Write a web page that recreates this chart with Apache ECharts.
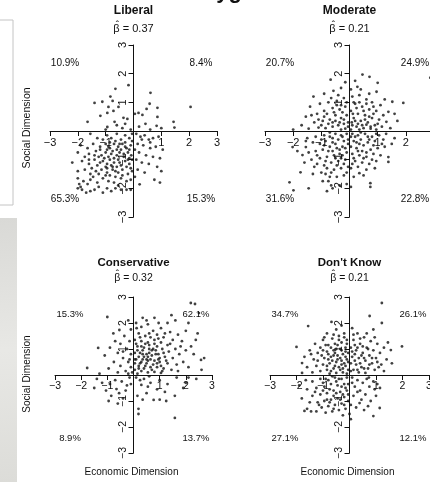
<!DOCTYPE html>
<html><head><meta charset="utf-8">
<script src="https://cdn.jsdelivr.net/npm/echarts@6/dist/echarts.min.js"></script>
<style>html,body{margin:0;padding:0;background:#fff}#c{width:430px;height:482px}</style>
</head><body><div id="c"></div>
<script>
// ---------- data ----------
const panelTitles = ['Liberal', 'Moderate', 'Conservative', "Don't Know"];
const betaValues = ['0.37', '0.21', '0.32', '0.21'];
// quadrant shares: upper-left, upper-right, lower-left, lower-right
const quadrantPct = [
  ['10.9%', '8.4%', '65.3%', '15.3%'],
  ['20.7%', '24.9%', '31.6%', '22.8%'],
  ['15.3%', '62.1%', '8.9%', '13.7%'],
  ['34.7%', '26.1%', '27.1%', '12.1%']
];
const axisMin = -3, axisMax = 3, axisStep = 1;
const xAxisName = 'Economic Dimension';
const yAxisName = 'Social Dimension';

// [economic, social]
const liberalPoints = [
 [2.05,0.84],[0.61,1.33],[0.58,0.95],[0.86,0.81],[0.47,0.77],[0.18,0.63],[0.32,0.56],[0.86,0.49],[0.43,0.25],[0.83,0.18],[1.0,0.1],[1.44,0.32],[1.47,0.12],[0.05,0.6],[0.2,0.15],[0.6,0.05],
 [-0.18,1.6],[-0.65,1.47],[-0.83,1.2],[-1.4,0.98],[-1.12,1.02],[-0.9,0.84],[-0.54,0.84],[-0.72,0.7],[-1.19,0.53],[-0.94,0.63],[-1.65,0.32],[-0.68,0.32],[-0.36,0.46],[-0.22,0.42],[-0.94,0.14],[-1.0,0.05],[-0.4,0.1],[-0.1,0.05],[-0.6,0.2],[-0.3,0.25],[-0.75,1.05],
 [0.1,-0.1],[0.25,-0.2],[0.4,-0.15],[0.55,-0.3],[0.7,-0.25],[0.9,-0.2],[0.15,-0.45],[0.35,-0.5],[0.6,-0.6],[0.8,-0.55],[1.05,-0.65],[0.2,-0.75],[0.45,-0.85],[0.7,-0.9],[0.95,-0.95],[0.1,-1.0],[0.3,-1.1],[0.55,-1.15],[0.85,-1.25],[0.15,-1.35],[0.4,-1.45],[1.0,-1.4],[0.22,-1.86],[0.75,-1.7],[0.95,-1.8],[0.05,-1.6],[0.6,-0.4],[0.3,-0.3],[0.05,-0.65],
 [-1.55,-0.1],[-0.95,-0.15],[-0.6,-0.1],[-0.3,-0.15],[-0.15,-0.25],[-0.45,-0.3],[-1.1,-0.3],[-0.05,-0.1],[-0.8,-0.25],[-1.3,-0.25],
 [-1.9,-0.5],[-1.45,-0.45],[-1.2,-0.55],[-1.0,-0.45],[-0.85,-0.6],[-0.7,-0.45],[-0.55,-0.55],[-0.4,-0.45],[-0.25,-0.6],[-0.1,-0.5],[-0.65,-0.35],[-0.3,-0.4],[-1.65,-0.6],[-0.05,-0.35],
 [-2.0,-0.75],[-1.6,-0.8],[-1.35,-0.7],[-1.15,-0.85],[-1.0,-0.75],[-0.9,-0.9],[-0.75,-0.7],[-0.6,-0.85],[-0.5,-0.75],[-0.35,-0.9],[-0.2,-0.75],[-0.08,-0.85],[-1.25,-0.9],[-0.8,-0.8],[-0.45,-0.65],[-0.15,-0.95],[-1.75,-0.9],[-0.95,-0.65],
 [-2.2,-1.1],[-1.85,-1.05],[-1.6,-1.15],[-1.4,-1.0],[-1.3,-1.2],[-1.1,-1.05],[-0.95,-1.15],[-0.85,-1.0],[-0.7,-1.1],[-0.55,-1.0],[-0.45,-1.2],[-0.3,-1.05],[-0.15,-1.15],[-0.05,-1.0],[-1.5,-1.3],[-1.2,-1.1],[-0.6,-1.25],[-0.25,-1.25],[-1.0,-1.25],[-0.8,-1.2],
 [-2.0,-1.4],[-1.75,-1.35],[-1.55,-1.5],[-1.35,-1.4],[-1.15,-1.35],[-0.95,-1.45],[-0.75,-1.35],[-0.55,-1.45],[-0.4,-1.35],[-0.2,-1.5],[-0.05,-1.4],[-1.25,-1.5],[-0.85,-1.55],[-0.65,-1.6],[-1.45,-1.6],
 [-2.0,-1.65],[-1.8,-1.75],[-1.55,-1.7],[-1.3,-1.8],[-1.1,-1.65],[-0.9,-1.75],[-0.7,-1.8],[-0.45,-1.65],[-0.25,-1.75],[-0.1,-1.7],[-1.95,-1.85],[-1.65,-1.85],[-0.55,-1.9],
 [-2.0,-2.0],[-1.85,-2.05],[-1.7,-2.15],[-1.55,-2.1],[-1.4,-2.05],[-1.25,-1.95],[-0.95,-2.0],[-0.8,-2.1],[-0.65,-2.0],[-0.45,-2.05],[-0.25,-2.05],[-0.1,-2.05],[-1.1,-2.15],[-1.9,-1.95],
 [-0.9,-0.55],[-0.7,-0.95],[-0.5,-1.1],[-1.05,-0.95],[-0.35,-0.8],[-0.6,-0.65],[-0.2,-1.0],[-1.2,-0.65],[-0.75,-1.25],[-0.4,-1.55],[-1.0,-1.55],[-0.3,-0.55],[-0.65,-1.4],[-0.85,-0.4],[-1.4,-0.85],[-0.1,-1.3],[-0.5,-0.45],[-1.6,-1.0],[-0.15,-0.65],[-0.95,-1.3]
];
const moderatePoints = [
 [0.46,1.97],[0.71,1.89],[1.0,1.68],[0.28,1.54],[0.96,1.37],[1.91,0.98],[1.52,1.02],[1.7,0.35],[1.38,0.67],[1.31,0.32],[2.87,1.86],
 [0.1,1.2],[0.35,1.25],[0.6,1.1],[0.8,1.0],[1.1,0.9],[0.2,0.95],[0.45,0.85],[0.7,0.75],[0.95,0.7],[1.2,0.55],[0.05,0.7],[0.3,0.6],[0.55,0.55],[0.8,0.45],[1.05,0.4],[0.15,0.45],[0.4,0.35],[0.65,0.3],[0.9,0.2],[1.15,0.15],[0.1,0.2],[0.25,0.15],[0.5,0.1],[0.75,0.08],[1.45,0.1],[0.05,0.05],[0.2,0.35],[0.35,0.05],[0.6,0.22],[0.85,0.6],[0.5,0.7],[0.15,1.0],[0.4,1.45],[0.7,1.3],[1.25,1.1],[0.25,0.8],[0.6,0.95],[1.0,0.25],[0.3,0.25],[0.12,0.6],[0.45,0.2],[0.7,0.5],[0.95,0.05],[0.05,1.45],[0.55,0.4],[0.85,0.85],[1.6,0.6],[0.2,1.75],[0.35,1.0],[0.08,0.3],[0.75,0.15],
 [-0.67,1.79],[-0.57,1.4],[-1.28,1.2],[-0.3,1.5],[-0.9,1.3],[-0.2,1.15],[-0.45,1.05],[-0.75,1.0],[-1.05,0.95],[-1.4,0.85],[-0.15,0.85],[-0.35,0.75],[-0.6,0.8],[-0.9,0.7],[-1.15,0.6],[-1.55,0.5],[-0.1,0.55],[-0.3,0.45],[-0.5,0.55],[-0.7,0.4],[-0.95,0.35],[-1.25,0.3],[-1.7,0.2],[-0.05,0.3],[-0.2,0.25],[-0.4,0.2],[-0.6,0.15],[-0.85,0.1],[-1.1,0.12],[-1.45,0.08],[-2.0,0.05],[-0.15,0.08],[-0.3,0.05],[-0.5,0.35],[-0.8,0.6],[-0.25,0.65],[-0.45,0.9],[-0.1,1.0],[-0.65,1.15],[-1.1,0.4],[-0.35,0.3],[-0.75,0.25],[-0.05,0.15],[-1.35,0.55],[-0.55,0.65],[-0.2,0.4],[-0.9,0.5],[-0.4,1.25],[-0.15,1.7],[-1.0,0.2],[-0.6,0.3],[-0.3,0.9],
 [-2.13,-1.79],[-1.99,-2.07],[-1.74,-1.44],[-1.45,-2.0],[-1.67,-0.84],[-1.55,-0.56],[-2.02,-0.56],[-0.85,-1.5],[-0.75,-1.75],[-0.6,-2.0],[-0.7,-1.6],[-0.8,-2.1],
 [-0.1,-0.1],[-0.3,-0.15],[-0.5,-0.1],[-0.7,-0.2],[-0.9,-0.15],[-1.2,-0.2],[-1.5,-0.25],[-0.2,-0.35],[-0.4,-0.3],[-0.6,-0.4],[-0.85,-0.35],[-1.05,-0.45],[-1.3,-0.4],[-0.05,-0.45],[-0.25,-0.55],[-0.45,-0.6],[-0.7,-0.55],[-0.95,-0.65],[-1.2,-0.7],[-1.45,-0.75],[-1.85,-0.7],[-0.1,-0.75],[-0.35,-0.8],[-0.55,-0.85],[-0.8,-0.9],[-1.05,-0.95],[-1.35,-1.0],[-0.15,-1.0],[-0.4,-1.05],[-0.65,-1.1],[-0.9,-1.2],[-1.15,-1.15],[-1.6,-1.1],[-0.05,-1.25],[-0.3,-1.3],[-0.55,-1.35],[-1.0,-1.45],[-1.3,-1.5],[-0.2,-1.55],[-0.45,-1.6],[-0.95,-1.75],[-0.1,-1.85],[-0.35,-1.9],[-0.65,-1.9],[-0.25,-0.2],[-0.6,-0.25],[-1.0,-0.3],[-0.15,-0.6],[-0.5,-0.45],[-0.75,-0.7],[-0.3,-0.95],[-0.6,-0.7],[-0.9,-0.5],[-1.15,-0.85],[-0.45,-1.2],[-0.8,-1.3],[-0.2,-1.15],[-0.7,-0.05],[-0.35,-0.65],[-1.25,-1.25],[-0.05,-0.3],[-0.5,-0.95],[-0.85,-1.05],[-1.55,-0.35],[-0.25,-0.85],[-0.65,-1.45],[-0.1,-1.45],
 [0.74,-1.82],[0.74,-1.95],[1.38,-0.91],[1.38,-1.08],[0.35,-1.47],[0.5,-1.55],[0.1,-0.1],[0.3,-0.15],[0.55,-0.1],[0.8,-0.2],[1.05,-0.15],[1.3,-0.1],[1.6,-0.25],[0.15,-0.35],[0.4,-0.3],[0.65,-0.4],[0.9,-0.35],[1.15,-0.45],[0.05,-0.55],[0.25,-0.6],[0.5,-0.5],[0.75,-0.65],[1.0,-0.6],[1.25,-0.55],[0.1,-0.8],[0.35,-0.85],[0.6,-0.9],[0.85,-0.8],[1.1,-0.85],[0.2,-1.05],[0.45,-1.1],[0.7,-1.15],[0.95,-1.05],[0.05,-1.3],[0.3,-1.25],[0.6,-1.35],[0.9,-1.3],[0.15,-1.6],[0.05,-1.95],[0.2,-0.2],[0.45,-0.7],[0.7,-0.3],[0.35,-0.45],[0.6,-0.75],[0.15,-0.95],[0.85,-0.5],[1.5,-0.45],[0.25,-0.4],[0.5,-0.95],[0.05,-0.2],[0.4,-0.05],[0.95,-0.1],[0.65,-0.2],[0.1,-1.15],[0.8,-1.0],[1.2,-0.3],[0.3,-0.7]
];
const conservativePoints = [
 [2.19,2.77],[2.35,2.73],[2.5,2.38],[2.1,2.0],[1.6,2.1],[1.3,2.0],[0.96,2.0],[2.58,0.58],[2.7,0.65],[2.38,1.35],[2.2,1.1],[2.45,1.6],[2.0,1.7],[1.85,1.3],[2.3,0.8],[1.9,0.5],[2.1,0.3],[2.6,0.2],
 [0.1,2.0],[0.3,1.85],[0.55,1.95],[0.75,1.7],[1.05,1.8],[1.4,1.65],[1.7,1.55],[0.2,1.6],[0.45,1.5],[0.65,1.45],[0.9,1.55],[1.15,1.45],[1.5,1.35],[0.05,1.35],[0.3,1.3],[0.55,1.25],[0.8,1.2],[1.05,1.25],[1.3,1.15],[1.6,1.0],[0.15,1.1],[0.4,1.05],[0.6,1.0],[0.85,0.95],[1.1,1.0],[1.35,0.9],[1.75,0.8],[0.05,0.85],[0.25,0.85],[0.5,0.8],[0.7,0.75],[0.95,0.8],[1.2,0.7],[1.5,0.65],[0.1,0.6],[0.35,0.6],[0.55,0.55],[0.8,0.55],[1.0,0.5],[1.3,0.45],[1.65,0.4],[0.2,0.35],[0.45,0.35],[0.65,0.3],[0.9,0.3],[1.15,0.25],[1.45,0.2],[0.05,0.2],[0.3,0.15],[0.55,0.1],[0.8,0.12],[1.05,0.08],[0.15,0.05],[0.4,0.7],[0.7,0.95],[0.6,1.15],[0.35,0.95],[0.9,1.1],[0.25,0.45],[0.5,0.45],[0.75,0.4],[1.0,0.65],[0.45,1.2],[0.8,1.35],[0.2,0.7],[0.65,0.6],[1.25,0.55],[0.55,0.7],[0.85,0.8],[0.1,1.2],[0.3,0.5],[1.05,0.35],[0.7,0.2],[0.4,0.25],[1.4,1.2],[1.8,1.1],[0.95,1.4],[0.25,1.45],[0.6,1.6],[1.2,1.6],[0.12,1.8],[0.5,2.1],[0.8,2.2],[1.45,2.3],[0.35,2.2],[1.1,0.15],[1.7,0.15],[2.0,0.95],[0.05,0.45],[0.15,0.95],[0.95,0.6],[0.6,0.85],[0.35,0.8],[0.75,1.0],[0.5,0.6],[0.3,1.1],[0.9,0.45],[1.15,0.85],[0.2,0.25],[0.05,0.6],
 [-1.0,2.23],[-0.54,1.73],[-0.77,1.6],[-1.35,1.04],[-1.77,0.27],[-0.2,2.1],[-0.1,1.75],[-0.35,1.5],[-0.15,1.3],[-0.5,1.2],[-0.9,1.05],[-0.25,1.0],[-0.6,0.85],[-1.1,0.75],[-0.1,0.8],[-0.4,0.65],[-0.75,0.5],[-0.2,0.5],[-0.5,0.35],[-0.95,0.25],[-0.1,0.3],[-0.3,0.15],[-0.6,0.1],[-1.3,0.05],[-0.05,0.1],[-0.2,0.05],[-0.4,0.9],[-0.15,0.6],[-0.7,1.3],
 [-0.65,-0.54],[-0.85,-0.8],[-1.2,-0.3],[-0.6,-1.1],[-0.3,-0.6],[-1.4,-0.15],[-0.9,-0.35],[-0.45,-0.25],[-0.15,-0.1],[-0.25,-0.4],[-1.05,-0.6],[-0.7,-0.2],[-0.4,-0.9],[-0.1,-0.35],[-1.5,-0.5],[-0.55,-0.7],[-0.95,-1.0],
 [0.19,-1.5],[0.19,-1.3],[1.58,-1.65],[0.3,-0.38],[0.77,-0.96],[1.58,-0.8],[1.9,-0.5],[2.1,-0.1],[0.1,-0.1],[0.4,-0.15],[0.65,-0.3],[1.0,-0.2],[1.3,-0.35],[2.4,-0.15],[0.9,-0.55],[0.5,-0.7],[1.2,-0.65],[0.15,-0.8],[0.35,-0.95],[1.0,-0.95],[1.25,-1.0],[0.6,-0.05],[1.65,-0.1],[0.25,-0.2],[0.55,-0.45],[2.0,-0.3]
];
const dontKnowPoints = [
 [1.22,2.77],[1.22,2.0],[0.76,2.27],[1.98,1.1],[1.56,0.96],[0.1,1.8],[0.3,1.6],[0.55,1.45],[0.8,1.3],[1.05,1.2],[1.3,1.05],[0.15,1.35],[0.4,1.2],[0.65,1.05],[0.9,0.95],[1.15,0.85],[0.05,1.05],[0.25,0.95],[0.5,0.85],[0.75,0.75],[1.0,0.65],[1.4,0.6],[0.1,0.7],[0.35,0.65],[0.6,0.55],[0.85,0.45],[1.2,0.4],[0.05,0.45],[0.25,0.4],[0.45,0.3],[0.7,0.25],[0.95,0.2],[0.15,0.2],[0.35,0.1],[0.6,0.08],[0.05,0.15],[0.2,0.55],[0.45,0.75],[0.7,1.0],[0.3,1.05],[0.55,0.25],[0.85,0.65],[1.1,0.3],[0.2,1.15],[0.4,0.45],[0.65,1.6],[0.9,1.75],[0.15,1.55],[0.5,1.1],[1.6,0.45],[0.1,0.9],[0.4,1.4],[1.3,0.15],[0.75,0.4],[0.3,0.2],[1.05,0.5],[0.55,0.65],[0.2,0.8],[0.95,1.45],[1.45,1.25],
 [-1.56,1.88],[-2.0,1.08],[-0.68,2.04],[-1.79,0.46],[-1.79,0.08],[-0.3,1.9],[-0.5,1.75],[-0.85,1.6],[-0.2,1.6],[-0.4,1.5],[-0.65,1.4],[-1.0,1.35],[-1.3,1.2],[-0.1,1.35],[-0.3,1.25],[-0.55,1.2],[-0.8,1.15],[-1.1,1.05],[-1.5,0.95],[-0.15,1.05],[-0.35,1.0],[-0.6,0.95],[-0.85,0.9],[-1.2,0.85],[-0.05,0.85],[-0.25,0.8],[-0.45,0.75],[-0.7,0.7],[-0.95,0.65],[-1.35,0.6],[-0.1,0.6],[-0.3,0.55],[-0.5,0.5],[-0.75,0.45],[-1.0,0.4],[-1.25,0.35],[-1.6,0.3],[-0.15,0.35],[-0.4,0.3],[-0.6,0.25],[-0.85,0.2],[-1.1,0.15],[-1.4,0.1],[-0.05,0.2],[-0.25,0.1],[-0.5,0.08],[-0.75,0.05],[-0.2,0.45],[-0.45,0.6],[-0.65,0.55],[-0.9,1.15],[-0.4,1.35],[-0.15,0.7],[-0.55,0.35],[-0.8,0.6],[-1.05,0.75],[-0.3,0.95],[-0.7,1.05],[-0.1,1.2],[-0.5,1.0],[-0.95,1.45],[-1.2,0.55],[-0.25,0.25],[-0.6,0.75],[-0.35,0.65],[-0.85,0.35],[-0.15,0.9],[-0.45,1.15],[-1.45,0.8],[-0.7,0.15],[-0.05,0.5],[-0.35,0.2],[-1.0,0.95],[-0.6,1.55],[-0.2,1.45],[-1.7,0.7],[-0.8,0.8],[-0.3,0.4],[-0.55,0.85],[-0.1,0.05],
 [-1.7,-1.38],[-1.6,-1.3],[-1.45,-1.4],[-1.9,-0.4],[-0.1,-0.1],[-0.3,-0.15],[-0.55,-0.1],[-0.8,-0.2],[-1.1,-0.15],[-1.4,-0.25],[-0.2,-0.35],[-0.45,-0.4],[-0.7,-0.35],[-0.95,-0.45],[-1.25,-0.5],[-1.6,-0.55],[-0.1,-0.6],[-0.35,-0.65],[-0.6,-0.6],[-0.85,-0.7],[-1.1,-0.75],[-1.4,-0.8],[-1.8,-0.9],[-0.2,-0.85],[-0.45,-0.9],[-0.7,-0.95],[-0.95,-1.0],[-1.2,-1.05],[-0.05,-1.0],[-0.3,-1.1],[-0.55,-1.15],[-0.8,-1.2],[-1.05,-1.25],[-0.15,-1.3],[-0.4,-1.35],[-0.65,-1.4],[-0.9,-1.45],[-1.25,-1.4],[-0.25,-1.55],[-0.05,-0.35],[-0.5,-0.25],[-0.75,-0.55],[-1.0,-0.6],[-0.3,-0.45],[-0.6,-0.8],[-0.85,-0.95],[-1.3,-0.65],[-0.15,-0.5],[-0.4,-0.15],[-0.65,-0.05],[-1.5,-1.05],[-1.0,-0.3],[-0.25,-0.75],[-0.75,-1.05],[-0.5,-0.7],[-1.15,-1.15],[-0.35,-0.95],[-0.9,-0.15],[-0.05,-0.75],[-1.65,-0.2],[-0.6,-1.3],[-0.2,-1.15],
 [1.14,-1.27],[0.9,-1.58],[0.38,-1.08],[0.0,-1.5],[0.05,-1.7],[0.73,-0.1],[0.9,-0.25],[1.05,-0.35],[0.75,-0.45],[0.95,-0.55],[1.15,-0.5],[0.1,-0.1],[0.3,-0.2],[0.5,-0.3],[0.2,-0.45],[0.4,-0.6],[0.6,-0.75],[0.15,-0.8],[0.45,-0.95],[0.8,-1.0],[0.25,-1.25],[0.55,-1.35],[0.1,-0.3],[0.65,-0.15],[0.3,-0.65],[1.0,-0.8],[0.7,-1.2],[0.05,-1.15]
];
const panelPoints = [liberalPoints, moderatePoints, conservativePoints, dontKnowPoints];

// ---------- layout ----------
const FONT = '"Liberation Sans", Arial, Helvetica, sans-serif';
const grids = [
  {left: 50, top: 45, width: 167, height: 172},
  {left: 265, top: 45, width: 169, height: 172},
  {left: 55, top: 297, width: 157, height: 156},
  {left: 270, top: 297, width: 159, height: 156}
];
const fmt = v => v === 0 ? '' : String(v).replace('-', '\u2212');

const xAxes = [], yAxes = [], series = [], graphics = [];
grids.forEach((g, i) => {
  const top = i < 2;
  const fs = top ? 11 : 10.5;
  const common = {
    type: 'value', min: axisMin, max: axisMax, interval: axisStep, gridIndex: i,
    splitLine: {show: false},
    axisLine: {show: true, onZero: false, lineStyle: {color: '#111', width: 1}},
    axisTick: {show: true, inside: false, length: 5, lineStyle: {color: '#111', width: 1}},
  };
  // axes pass through the origin: shift them into the middle of the grid
  xAxes.push(Object.assign({}, common, {
    position: 'bottom', offset: -g.height / 2,
    axisLabel: {show: true, formatter: fmt, color: '#111', fontSize: fs, fontFamily: FONT, margin: 6}
  }));
  yAxes.push(Object.assign({}, common, {
    position: 'left', offset: -g.width / 2,
    axisLabel: {show: true, formatter: fmt, color: '#111', fontSize: fs, fontFamily: FONT, margin: 5, rotate: 90}
  }));
  series.push({
    type: 'scatter', xAxisIndex: i, yAxisIndex: i, data: panelPoints[i],
    symbol: 'circle', symbolSize: 2.8, itemStyle: {color: '#111'}, silent: true
  });

  const zeroX = g.left + g.width / 2;
  const tfs = top ? 12 : 11.5;
  const titleY = top ? 11 : 263;
  const betaY = top ? 29 : 278;
  const bfs = top ? 11 : 10.5;
  graphics.push({type: 'text', silent: true, style: {text: panelTitles[i], x: zeroX, y: titleY,
    textAlign: 'center', textVerticalAlign: 'middle', align: 'center', verticalAlign: 'middle',
    font: 'bold ' + tfs + 'px ' + FONT, fill: '#111'}});
  graphics.push({type: 'text', silent: true, style: {text: '\u03B2 = ' + betaValues[i], x: zeroX, y: betaY,
    textAlign: 'center', textVerticalAlign: 'middle', align: 'center', verticalAlign: 'middle',
    font: bfs + 'px ' + FONT, fill: '#111'}});
  graphics.push({type: 'text', silent: true, style: {text: '\u02C6', x: zeroX - 16, y: betaY - 3,
    textAlign: 'center', textVerticalAlign: 'middle', align: 'center', verticalAlign: 'middle',
    font: '10px ' + FONT, fill: '#111'}});
  const pfs = top ? 10 : 9.5;
  const pxL = g.left + 15, pxR = g.left + g.width - 16;
  const pyT = top ? 63 : 314, pyB = top ? 199 : 438;
  const pos = [[pxL, pyT], [pxR, pyT], [pxL, pyB], [pxR, pyB]];
  quadrantPct[i].forEach((t, q) => {
    let x = pos[q][0];
    if (i === 1 && (q === 1 || q === 3)) x = 415;
    graphics.push({type: 'text', silent: true, style: {text: t, x: x, y: pos[q][1],
      textAlign: 'center', textVerticalAlign: 'middle', align: 'center', verticalAlign: 'middle',
      font: pfs + 'px ' + FONT, fill: '#111'}});
  });
  if (i % 2 === 0) {
    graphics.push({type: 'text', silent: true, rotation: Math.PI / 2, x: 27, y: top ? 128 : 374,
      style: {text: yAxisName, x: 0, y: 0, textAlign: 'center', textVerticalAlign: 'middle', align: 'center', verticalAlign: 'middle',
      font: (top ? 10.5 : 10) + 'px ' + FONT, fill: '#111'}});
  }
  if (!top) {
    graphics.push({type: 'text', silent: true, style: {text: xAxisName, x: zeroX - 2, y: 472,
      textAlign: 'center', textVerticalAlign: 'middle', align: 'center', verticalAlign: 'middle',
      font: '10px ' + FONT, fill: '#111'}});
  }
});

// page decorations around the figure
graphics.unshift(
  {type: 'rect', silent: true, shape: {x: -1, y: 20, width: 14, height: 185},
   style: {fill: 'none', stroke: '#c4c4c4', lineWidth: 1}},
  {type: 'rect', silent: true, shape: {x: 0, y: 218, width: 17, height: 264},
   style: {fill: {type: 'linear', x: 0, y: 0, x2: 1, y2: 1, colorStops: [
     {offset: 0, color: '#d9d9d6'}, {offset: 0.5, color: '#e8e8e5'}, {offset: 1, color: '#dcdcd8'}]}}},
  {type: 'text', silent: true, style: {text: 'yg', x: 229, y: -8, textAlign: 'center', textVerticalAlign: 'middle',
   align: 'center', verticalAlign: 'middle', font: 'bold 22px ' + FONT, fill: '#111'}}
);

const chart = echarts.init(document.getElementById('c'), null, {renderer: 'canvas', width: 430, height: 482});
chart.setOption({
  animation: false,
  backgroundColor: '#ffffff',
  grid: grids.map(g => Object.assign({containLabel: false, outerBoundsMode: 'none'}, g)),
  xAxis: xAxes,
  yAxis: yAxes,
  series: series,
  graphic: {elements: graphics}
});
</script>
</body></html>
